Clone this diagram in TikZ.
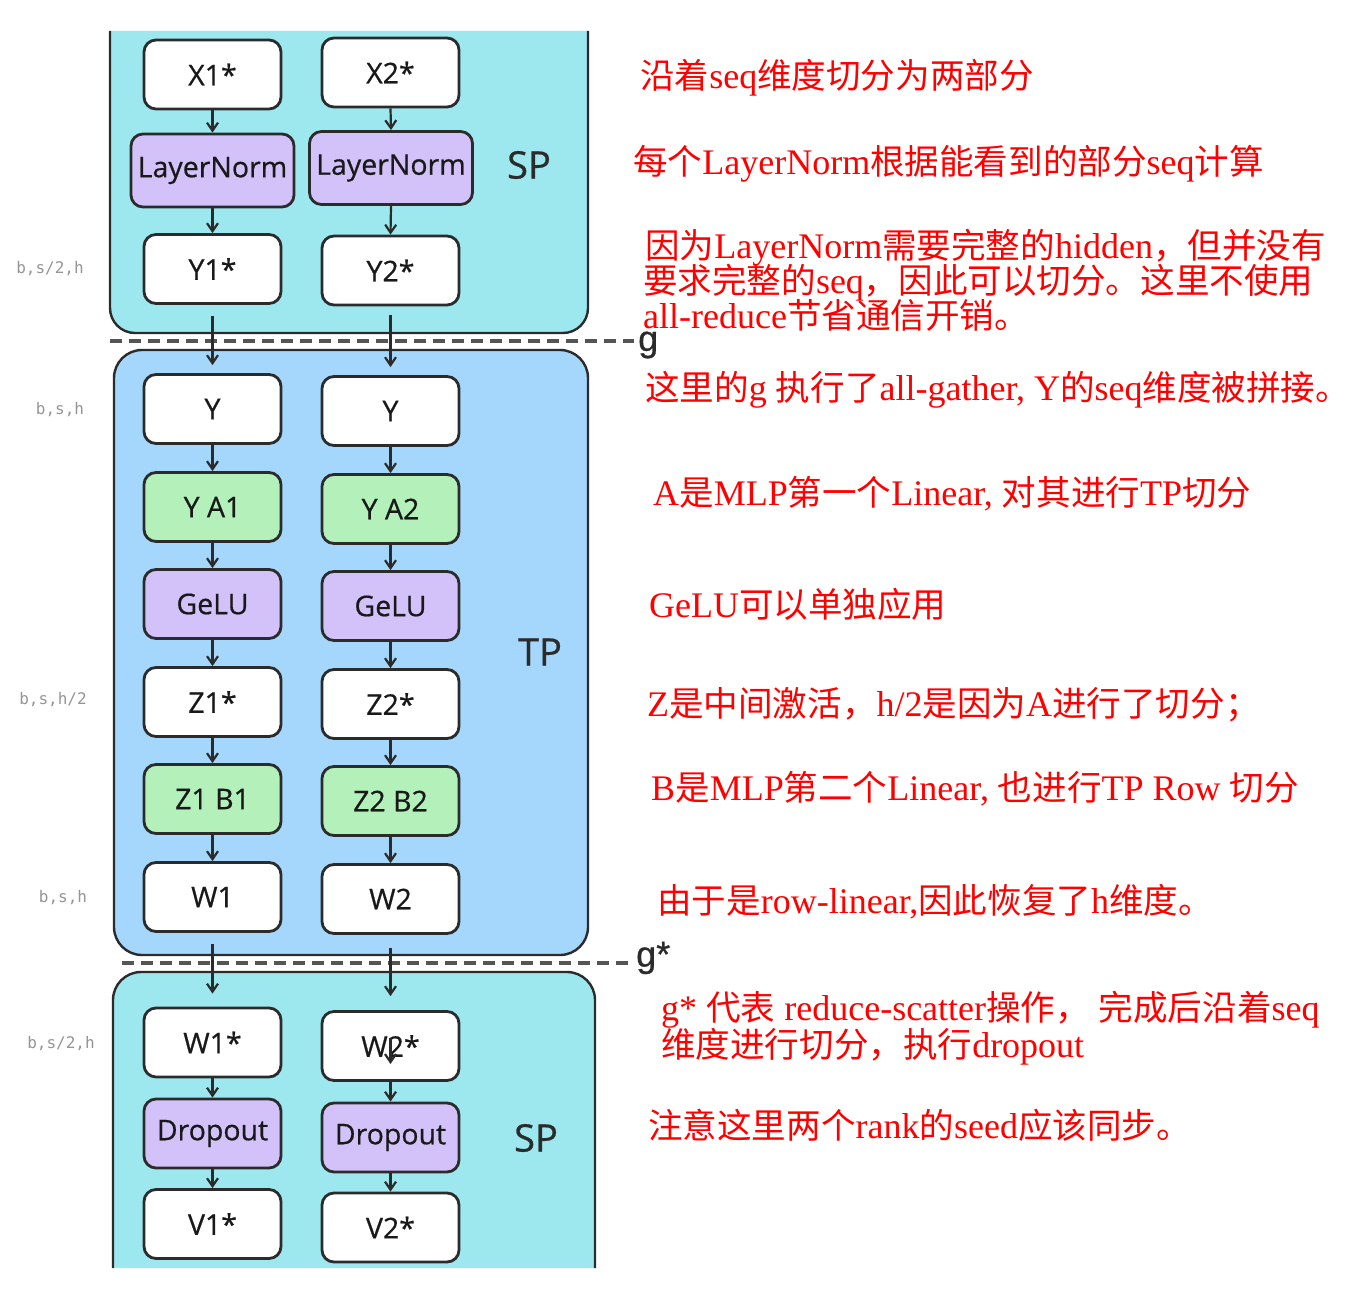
\documentclass[tikz,border=0pt]{standalone}
\usepackage{fontspec}
\setmainfont{Liberation Serif}
\newfontfamily\cjk[Scale=0.96]{Noto Sans CJK SC}
\newfontfamily\boxfont[FakeBold=0.6]{Open Sans}
\newfontfamily\labfont{DejaVu Sans Mono}
\newfontfamily\gfont[FakeBold=0.8]{Liberation Sans}
\usetikzlibrary{arrows.meta}
\definecolor{spcyan}{HTML}{9DE8EF}
\definecolor{tpblue}{HTML}{A4D7FB}
\definecolor{lav}{HTML}{D2C2F9}
\definecolor{mint}{HTML}{B3F0BA}
\definecolor{edgec}{HTML}{2B2B2B}
\definecolor{dashc}{HTML}{555555}
\definecolor{labc}{HTML}{959595}
\newcommand\zh[1]{{\cjk #1}}
\begin{document}
\begin{tikzpicture}[x=1pt,y=-1pt,
 box/.style={draw=edgec, line width=2.8pt, rounded corners=12pt, fill=white, minimum width=137pt, minimum height=69pt, inner sep=0pt, font=\boxfont\fontsize{28.5}{30}\selectfont, text=black!90},
 lnbox/.style={box, fill=lav, minimum width=163pt, minimum height=73pt},
 pbox/.style={box, fill=lav},
 gbox/.style={box, fill=mint},
 arr/.style={draw=edgec, line width=2.2pt, -{Straight Barb[length=8pt,width=11pt,line width=2.2pt]}},
 note/.style={anchor=base west, inner sep=0pt, text=red, font=\fontsize{36}{37}\selectfont},
 dim/.style={anchor=center, inner sep=0pt, text=labc, font=\labfont\fontsize{16}{17}\selectfont},
 plabel/.style={inner sep=0pt, text=edgec, font=\boxfont\fontsize{38}{40}\selectfont},
 glabel/.style={inner sep=0pt, anchor=west, text=edgec, font=\gfont\fontsize{36}{38}\selectfont},
 dline/.style={draw=dashc, line width=3.2pt, dash pattern=on 12pt off 7pt},
 panel/.style={draw=edgec, line width=2.4pt}
]
\useasboundingbox[fill=white] (0,0) rectangle (1362,1308);

% panels
\path[panel, fill=spcyan, rounded corners=25pt] (110,31) -- (110,333) -- (588,333) -- (588,31);
\draw[panel, fill=tpblue, rounded corners=28pt] (114,350) rectangle (588,955);
\path[panel, fill=spcyan, rounded corners=28pt] (113,1268) -- (113,972) -- (595,972) -- (595,1268);

% separators
\node[glabel] (g) at (638,345) {g};
\node[glabel] (gs) at (636,958) {g*};
\coordinate (gstart) at (110,341);
\coordinate (gsstart) at (122,963);
\draw[dline] (gstart) -- ([xshift=-4pt]g.west |- gstart);
\draw[dline] (gsstart) -- ([xshift=-2pt]gs.west |- gsstart);

% panel labels
\node[plabel] (sp1) at (529,165) {SP};
\node[plabel] (tp) at (540,652) {TP};
\node[plabel] (sp2) at (536,1138) {SP};

% dimension labels
\node[dim] (d1) at (50,269) {b,s/2,h};
\node[dim] (d2) at (60,410) {b,s,h};
\node[dim] (d3) at (53,700) {b,s,h/2};
\node[dim] (d4) at (63,898) {b,s,h};
\node[dim] (d5) at (61,1044) {b,s/2,h};

% left column
\node[box] (X1) at (212.5,74.5) {X1*};
\node[lnbox] (LN1) at (212.5,170.5) {LayerNorm};
\node[box] (Y1s) at (212.5,269) {Y1*};
\node[box] (Y1) at (212.5,409) {Y};
\node[gbox] (YA1) at (212.5,507) {Y A1};
\node[pbox] (G1) at (212.5,604) {GeLU};
\node[box] (Z1) at (212.5,702) {Z1*};
\node[gbox] (ZB1) at (212.5,799) {Z1 B1};
\node[box] (W1) at (212.5,897) {W1};
\node[box] (W1s) at (212.5,1042.5) {W1*};
\node[pbox] (D1) at (212.5,1133.5) {Dropout};
\node[box] (V1) at (212.5,1224) {V1*};

% right column
\node[box] (X2) at (390.5,72.5) {X2*};
\node[lnbox] (LN2) at (391,168) {LayerNorm};
\node[box] (Y2s) at (390.5,270.5) {Y2*};
\node[box] (Y2) at (390.5,411) {Y};
\node[gbox] (YA2) at (390.5,509) {Y A2};
\node[pbox] (G2) at (390.5,606) {GeLU};
\node[box] (Z2) at (390.5,704) {Z2*};
\node[gbox] (ZB2) at (390.5,801) {Z2 B2};
\node[box] (W2) at (390.5,899) {W2};
\node[box] (W2s) at (390.5,1046) {W2*};
\node[pbox] (D2) at (390.5,1137.5) {Dropout};
\node[box] (V2) at (390.5,1227.5) {V2*};

% arrows inside panels
\foreach \a/\b in {X1/LN1,LN1/Y1s,Y1/YA1,YA1/G1,G1/Z1,Z1/ZB1,ZB1/W1,W1s/D1,D1/V1,
                   X2/LN2,LN2/Y2s,Y2/YA2,YA2/G2,G2/Z2,Z2/ZB2,ZB2/W2,W2s/D2,D2/V2}
  \draw[arr] (\a.south) -- (\b.north);

% arrows across panels
\draw[arr] ([yshift=-11pt]Y1s.south) -- ([yshift=8pt]Y1.north);
\draw[arr] ([yshift=-9pt]Y2s.south) -- ([yshift=8pt]Y2.north);
\draw[arr] ([yshift=-11pt]W1.south) -- ([yshift=13pt]W1s.north);
\draw[arr] ([yshift=-13pt]W2.south) -- ([yshift=14pt]W2s.north);
\coordinate (w2a) at (390.5,1038);
\coordinate (w2b) at (390.5,1064);
\draw[arr] (w2a) -- (w2b);

% notes
\node[note] (n1) at (640,89) {\zh{沿着}seq\zh{维度切分为两部分}};
\node[note] (n2) at (633,175) {\zh{每个}LayerNorm\zh{根据能看到的部分}seq\zh{计算}};
\node[note] (n3a) at (645,258) {\zh{因为}LayerNorm\zh{需要完整的}hidden\zh{，但并没有}};
\node[note] (n3b) at (643,293) {\zh{要求完整的}seq\zh{，因此可以切分。这里不使用}};
\node[note] (n3c) at (643,328) {all-reduce\zh{节省通信开销。}};
\node[note] (n4) at (645,400) {\zh{这里的}g \zh{执行了}all-gather, Y\zh{的}seq\zh{维度被拼接。}};
\node[note] (n5) at (653,505) {A\zh{是}MLP\zh{第一个}Linear, \zh{对其进行}TP\zh{切分}};
\node[note] (n6) at (649,617) {GeLU\zh{可以单独应用}};
\node[note] (n7) at (647,716) {Z\zh{是中间激活，}h/2\zh{是因为}A\zh{进行了切分；}};
\node[note] (n8) at (651,800) {B\zh{是}MLP\zh{第二个}Linear, \zh{也进行}TP Row \zh{切分}};
\node[note] (n9) at (657,913) {\zh{由于是}row-linear,\zh{因此恢复了}h\zh{维度。}};
\node[note] (n10a) at (661,1020) {g* \zh{代表} reduce-scatter\zh{操作，} \zh{完成后沿着}seq};
\node[note] (n10b) at (661,1057) {\zh{维度进行切分，执行}dropout};
\node[note] (n11) at (648,1138) {\zh{注意这里两个}rank\zh{的}seed\zh{应该同步。}};
\end{tikzpicture}
\end{document}
